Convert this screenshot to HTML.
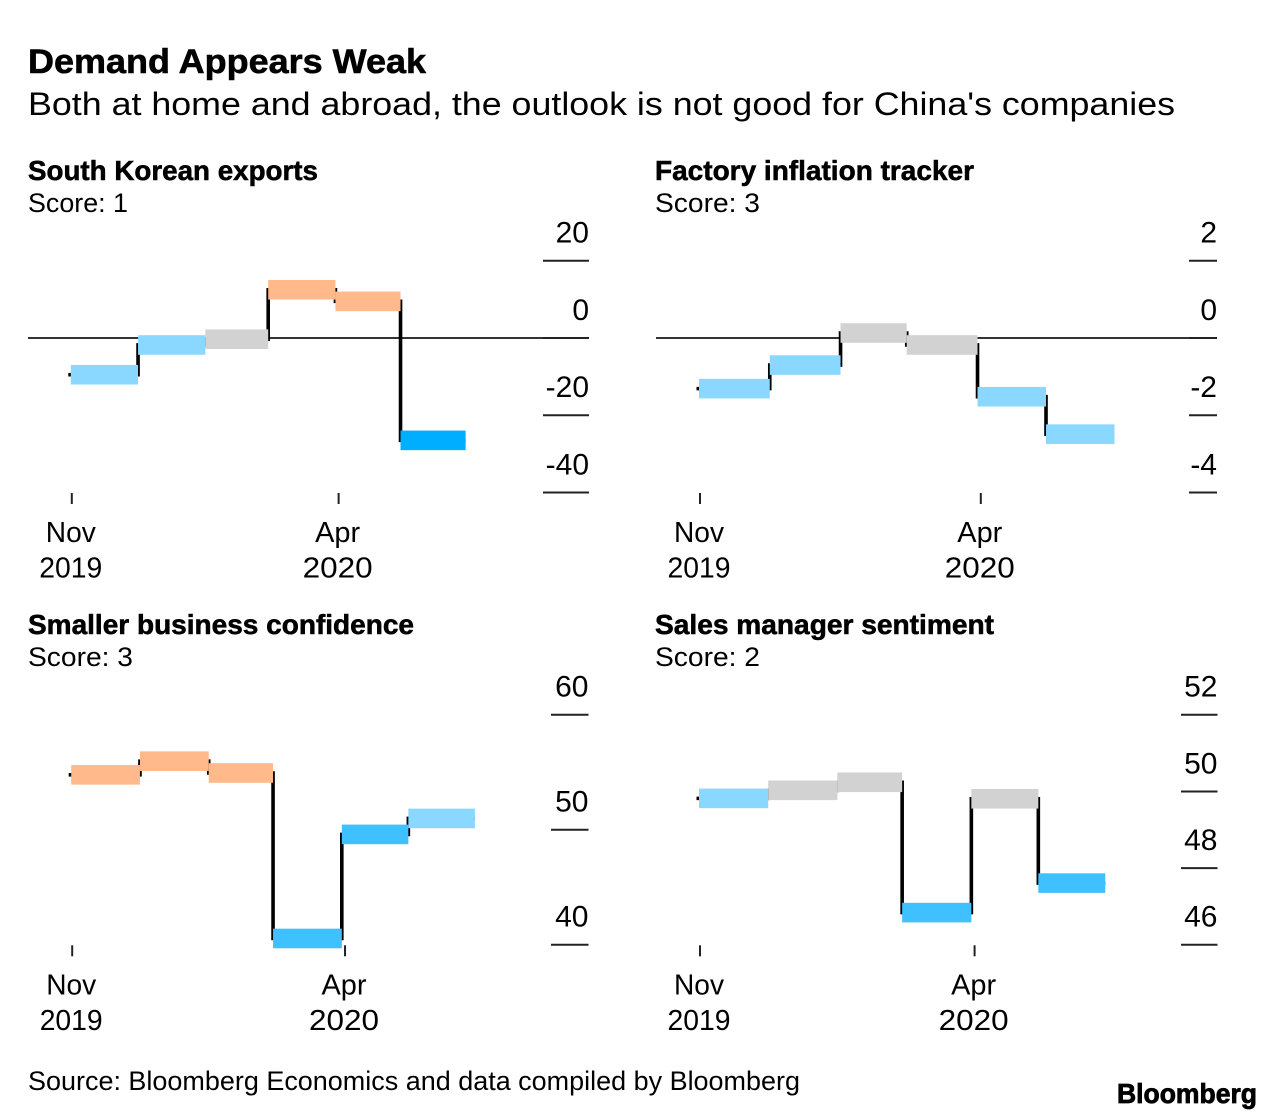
<!DOCTYPE html>
<html lang="en">
<head>
<meta charset="utf-8">
<title>Demand Appears Weak</title>
<style>
html,body{margin:0;padding:0;background:#fff;}
svg{display:block;font-family:"Liberation Sans",Arial,sans-serif;fill:#000;}
.title{font-size:34.5px;font-weight:700;stroke:#000;stroke-width:.6px;}
.subtitle{font-size:32px;}
.heading{font-size:27.5px;font-weight:700;stroke:#000;stroke-width:.55px;}
.score{font-size:27px;}
.axis-label{font-size:28.5px;}
.y-label{font-size:30px;}
.source{font-size:26.5px;}
.logo{font-size:28px;font-weight:700;stroke:#000;stroke-width:.8px;}
</style>
</head>
<body>
<svg id="chart" xmlns="http://www.w3.org/2000/svg" width="1284" height="1120" viewBox="0 0 1284 1120">
  <rect width="1284" height="1120" fill="#fff"/>
  <text class="title" x="28" y="73" textLength="398" lengthAdjust="spacingAndGlyphs">Demand Appears Weak</text>
  <text class="subtitle" x="28" y="115" textLength="1147" lengthAdjust="spacingAndGlyphs">Both at home and abroad, the outlook is not good for China's companies</text>

  <text class="heading" x="28" y="180" textLength="290" lengthAdjust="spacingAndGlyphs">South Korean exports</text>
  <text class="score" x="28" y="212" textLength="100" lengthAdjust="spacingAndGlyphs">Score: 1</text>

  <text class="heading" x="655" y="180" textLength="319" lengthAdjust="spacingAndGlyphs">Factory inflation tracker</text>
  <text class="score" x="655" y="212" textLength="105" lengthAdjust="spacingAndGlyphs">Score: 3</text>

  <text class="heading" x="28" y="634" textLength="386" lengthAdjust="spacingAndGlyphs">Smaller business confidence</text>
  <text class="score" x="28" y="666" textLength="105" lengthAdjust="spacingAndGlyphs">Score: 3</text>

  <text class="heading" x="655" y="634" textLength="339" lengthAdjust="spacingAndGlyphs">Sales manager sentiment</text>
  <text class="score" x="655" y="666" textLength="105" lengthAdjust="spacingAndGlyphs">Score: 2</text>

  <text class="source" x="28" y="1090" textLength="772" lengthAdjust="spacingAndGlyphs">Source: Bloomberg Economics and data compiled by Bloomberg</text>
  <text class="logo" x="1117" y="1103" textLength="140" lengthAdjust="spacingAndGlyphs">Bloomberg</text>
</svg>
<script>
// Shared time categories (month-end dates of each reading, and the next period end)
const periodDates = ['2019-11-30','2019-12-31','2020-01-31','2020-02-29','2020-03-31','2020-04-30','2020-05-30'];
const xTickDates = ['2019-11-30','2020-04-01'];
const xTickMonths = ['Nov','Apr'];
const xTickYears = ['2019','2020'];

// South Korean exports
const koreaValues = [-9.5,-1.8,-0.3,12.5,9.5,-26.5];
const koreaLevels = ['weak','weak','neutral','strong','strong','very-weak'];
const koreaTicks = [20,0,-20,-40];
const koreaTickLabels = ['20','0','-20','-40'];

// Factory inflation tracker
const factoryValues = [-1.31,-0.70,0.13,-0.18,-1.52,-2.49];
const factoryLevels = ['weak','weak','neutral','neutral','weak','weak'];
const factoryTicks = [2,0,-2,-4];
const factoryTickLabels = ['2','0','-2','-4'];

// Smaller business confidence
const businessValues = [54.78,55.97,54.94,40.55,49.6,50.99];
const businessLevels = ['strong','strong','strong','fairly-weak','fairly-weak','weak'];
const businessTicks = [60,50,40];
const businessTickLabels = ['60','50','40'];

// Sales manager sentiment
const salesValues = [49.82,50.03,50.24,46.84,49.81,47.61];
const salesLevels = ['weak','neutral','neutral','fairly-weak','neutral','fairly-weak'];
const salesTicks = [52,50,48,46];
const salesTickLabels = ['52','50','48','46'];

const levelColors = {
  'very-weak':'#00AEFF',
  'fairly-weak':'#40C1FF',
  'weak':'#8AD7FF',
  'neutral':'#D2D2D2',
  'strong':'#FFB98A'
};

const labelWidths = {Nov:50,Apr:45,'2019':63,'2020':70};

const panels = [
  {id:'korea',values:koreaValues,levels:koreaLevels,ticks:koreaTicks,labels:koreaTickLabels,
   domain:[-40,20],yRange:[492.5,260.8],xRange:[70.8,465.6],left:28,gridLeft:543,right:589,zero:true,stepW:3.6},
  {id:'factory',values:factoryValues,levels:factoryLevels,ticks:factoryTicks,labels:factoryTickLabels,
   domain:[-4,2],yRange:[492.5,260.8],xRange:[699,1114.5],left:656,gridLeft:1189,right:1217,zero:true,stepW:3.6},
  {id:'business',values:businessValues,levels:businessLevels,ticks:businessTicks,labels:businessTickLabels,
   domain:[40,60],yRange:[944.8,714.8],xRange:[71.2,474.9],left:28,gridLeft:551,right:588.5,zero:false,stepW:3.6},
  {id:'sales',values:salesValues,levels:salesLevels,ticks:salesTicks,labels:salesTickLabels,
   domain:[46,52],yRange:[944.8,714.8],xRange:[699,1105.3],left:656,gridLeft:1181,right:1217.5,zero:false,stepW:3.6}
];

const NS = 'http://www.w3.org/2000/svg';
const root = document.getElementById('chart');
const t0 = Date.parse(periodDates[0]);
const t1 = Date.parse(periodDates[periodDates.length-1]);

function make(tag, parent, attrs){
  const el = document.createElementNS(NS, tag);
  for (const k in attrs) el.setAttribute(k, attrs[k]);
  parent.appendChild(el);
  return el;
}

function drawPanel(p){
  const g = make('g', root, {});
  
  

  const xScale = d => p.xRange[0] + (Date.parse(d)-t0)/(t1-t0)*(p.xRange[1]-p.xRange[0]);
  const yScale = v => p.yRange[0] + (v-p.domain[0])/(p.domain[1]-p.domain[0])*(p.yRange[1]-p.yRange[0]);

  // zero line
  if (p.zero){
    const z = make('line', g, {x1:p.left,x2:p.right,y1:yScale(0),y2:yScale(0),stroke:'#333','stroke-width':2});
    
    
  }

  // y ticks and labels
  p.ticks.forEach((t,i)=>{
    const y = yScale(t);
    const tick = make('line', g, {x1:p.gridLeft,x2:p.right,y1:y,y2:y,stroke:'#222','stroke-width':2});
    
    
    const lab = make('text', g, {x:p.right,y:y-18.2,'text-anchor':'end','class':'y-label'});
    lab.textContent = p.labels[i];
    
    
  });

  // x ticks and labels
  const bottom = p.yRange[0];
  xTickDates.forEach((d,i)=>{
    const x = xScale(d);
    const tx = x + 1;
    const tick = make('line', g, {x1:tx,x2:tx,y1:bottom+0.5,y2:bottom+11.5,stroke:'#222','stroke-width':2});
    
    
    const m = make('text', g, {x:x,y:bottom+49.5,'text-anchor':'middle','class':'axis-label',
      textLength:labelWidths[xTickMonths[i]],lengthAdjust:'spacingAndGlyphs'});
    m.textContent = xTickMonths[i];
    
    
    const yr = make('text', g, {x:x,y:bottom+85,'text-anchor':'middle','class':'axis-label',
      textLength:labelWidths[xTickYears[i]],lengthAdjust:'spacingAndGlyphs'});
    yr.textContent = xTickYears[i];
    
    
  });

  // step line under the bars
  let d = 'M' + (xScale(periodDates[0])-2.5) + ' ' + yScale(p.values[0]);
  p.values.forEach((v,i)=>{
    d += ' L' + xScale(periodDates[i]) + ' ' + yScale(v);
    d += ' L' + xScale(periodDates[i+1]) + ' ' + yScale(v);
  });
  const step = make('path', g, {d:d,fill:'none',stroke:'#000','stroke-width':p.stepW,'stroke-linejoin':'miter'});
  
  

  // bars
  const barH = 19.6;
  p.values.forEach((v,i)=>{
    const x0 = xScale(periodDates[i]);
    const x1 = xScale(periodDates[i+1]);
    const bar = make('rect', g, {x:x0,y:yScale(v)-barH/2,width:x1-x0,height:barH,fill:levelColors[p.levels[i]]});
    
    
  });
}

panels.forEach(drawPanel);
</script>
</body>
</html>
